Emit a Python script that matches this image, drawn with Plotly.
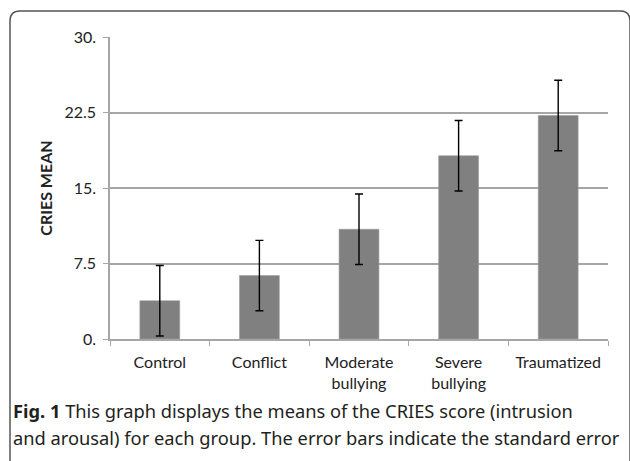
import plotly.graph_objects as go

categories = ["Control", "Conflict", "Moderate<br>bullying", "Severe<br>bullying", "Traumatized"]
means = [3.8, 6.3, 10.9, 18.2, 22.2]
std_err = [3.5, 3.5, 3.5, 3.5, 3.5]
y_tick_vals = [0, 7.5, 15, 22.5, 30]
y_tick_text = ["0.", "7.5", "15.", "22.5", "30."]
caption_lines = [
    "<b>Fig. 1</b> This graph displays the means of the CRIES score (intrusion",
    "and arousal) for each group. The error bars indicate the standard error",
]

W, H = 630, 461
L, R, T, B = 110, 22, 37, 122
PW, PH = W - L - R, H - T - B

def px(x):
    return (x - L) / PW

def py(y):
    return (H - B - y) / PH

fig = go.Figure()
fig.add_trace(go.Bar(
    x=categories, y=means,
    marker=dict(color="#808080", line=dict(color="#9a9a9a", width=0.6)),
    error_y=dict(type="data", array=std_err, visible=True, color="black", thickness=1.4, width=4),
    width=0.4,
))

# rounded frame
x0, x1, y0, y1, r = 10, 630, 11, 464, 10
path = (f"M {px(x0)},{py(y1)} L {px(x0)},{py(y0 + r)} "
        f"Q {px(x0)},{py(y0)} {px(x0 + r)},{py(y0)} "
        f"L {px(x1 - r)},{py(y0)} Q {px(x1)},{py(y0)} {px(x1)},{py(y0 + r)} "
        f"L {px(x1)},{py(y1)}")
fig.add_shape(type="path", path=path, xref="paper", yref="paper",
              line=dict(color="#555555", width=1.5), layer="above")

for line_text, line_y in zip(caption_lines, [410, 437]):
    fig.add_annotation(
        text=line_text,
        xref="paper", yref="paper", x=px(11), y=py(line_y), xanchor="left", yanchor="middle",
        align="left", showarrow=False,
        font=dict(family="Noto Sans", size=18.3, color="#231f20"),
    )

fig.update_layout(
    width=W, height=H,
    margin=dict(l=L, r=R, t=T, b=B),
    paper_bgcolor="white", plot_bgcolor="white",
    showlegend=False,
    font=dict(family="Lato", size=16, color="#222222"),
    xaxis=dict(
        showline=True, linecolor="#a6a6a6", linewidth=1.5,
        ticks="outside", tickson="boundaries", ticklen=5, tickcolor="#a6a6a6",
        showgrid=False, tickfont=dict(size=16), ticklabelstandoff=8,
    ),
    yaxis=dict(
        range=[0, 30], tickvals=y_tick_vals, ticktext=y_tick_text,
        showline=True, linecolor="#a6a6a6", linewidth=1.5,
        ticks="outside", ticklen=5, tickcolor="#a6a6a6",
        showgrid=True, gridcolor="#a6a6a6", gridwidth=1.5,
        zeroline=False, ticklabelstandoff=4,
        title=dict(text="<b>CRIES MEAN</b>", font=dict(size=16), standoff=8),
        tickfont=dict(size=16),
    ),
)

fig.write_html("out.html", post_script="document.body.style.margin='0';",
               config={"displayModeBar": False})
